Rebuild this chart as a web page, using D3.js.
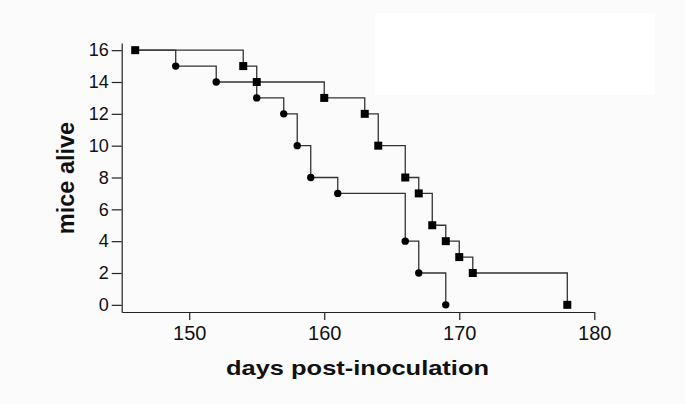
<!DOCTYPE html>
<html>
<head>
  <meta charset="utf-8">
  <title>mice alive vs days post-inoculation</title>
  <script src="https://d3js.org/d3.v7.min.js"></script>
  <style>
    body { margin: 0; background: #fbfbfb; }
    svg { display: block; font-family: "Liberation Sans", Arial, sans-serif; }
    .axis path, .axis line { stroke: #222; stroke-width: 1.2; }
    .axis text { fill: #111; }
    .step { fill: none; stroke: #333; stroke-width: 1.3; }
  </style>
</head>
<body>
<div id="chart"></div>
<script>

// survival data (day, number of mice alive)
let squareDays   = [146, 154, 155, 160, 163, 164, 166, 167, 168, 169, 170, 171, 178];
let squareAlive  = [16, 15, 14, 13, 12, 10, 8, 7, 5, 4, 3, 2, 0];

let circleDays   = [146, 149, 152, 155, 157, 158, 159, 161, 166, 167, 169];
let circleAlive  = [16, 15, 14, 13, 12, 10, 8, 7, 4, 2, 0];

let xTicks = [150, 160, 170, 180];
let yTicks = [0, 2, 4, 6, 8, 10, 12, 14, 16];

let width = 685,
    height = 404;

let svg = d3.select("#chart").append("svg")
    .attr("width", width)
    .attr("height", height);

// faint white patch in the upper right of the original scan
svg.append("rect")
    .attr("x", 375).attr("y", 13)
    .attr("width", 280).attr("height", 82)
    .attr("fill", "#fff");

let x = d3.scaleLinear()
    .domain([145, 180])
    .range([121.7, 594.3]);

let y = d3.scaleLinear()
    .domain([-0.45, 16.45])
    .range([312, 43]);

let xAxis = svg.append("g")
    .attr("class", "axis")
    .attr("transform", "translate(0," + y(-0.45) + ")")
    .call(d3.axisBottom(x).tickValues(xTicks).tickSizeInner(8).tickSizeOuter(0).tickPadding(6));
xAxis.selectAll("text").style("font-size", "20px");

let yAxis = svg.append("g")
    .attr("class", "axis")
    .attr("transform", "translate(" + x(145) + ",0)")
    .call(d3.axisLeft(y).tickValues(yTicks).tickSizeInner(10).tickSizeOuter(0).tickPadding(3));
yAxis.selectAll("text").style("font-size", "18px");

let line = d3.line()
    .x(d => x(d[0]))
    .y(d => y(d[1]))
    .curve(d3.curveStepAfter);

let squares = squareDays.map((d, i) => [d, squareAlive[i]]);
let circles = circleDays.map((d, i) => [d, circleAlive[i]]);

svg.append("path").datum(circles).attr("class", "step").attr("d", line);
svg.append("path").datum(squares).attr("class", "step").attr("d", line);

svg.selectAll("circle.pt")
    .data(circles.slice(1))
  .enter().append("circle")
    .attr("class", "pt")
    .attr("cx", d => x(d[0]))
    .attr("cy", d => y(d[1]))
    .attr("r", 3.7)
    .attr("fill", "#000");

svg.selectAll("rect.pt")
    .data(squares)
  .enter().append("rect")
    .attr("class", "pt")
    .attr("x", d => x(d[0]) - 4)
    .attr("y", d => y(d[1]) - 4)
    .attr("width", 8)
    .attr("height", 8)
    .attr("fill", "#000");

// axis titles
svg.append("text")
    .attr("x", 357.5)
    .attr("y", 375)
    .attr("text-anchor", "middle")
    .attr("textLength", 263)
    .attr("lengthAdjust", "spacingAndGlyphs")
    .style("font-size", "21px")
    .style("font-weight", "bold")
    .style("fill", "#111")
    .text("days post-inoculation");

svg.append("text")
    .attr("transform", "translate(74,178) rotate(-90)")
    .attr("text-anchor", "middle")
    .style("font-size", "23.5px")
    .style("font-weight", "bold")
    .style("fill", "#111")
    .text("mice alive");

</script>
</body>
</html>
